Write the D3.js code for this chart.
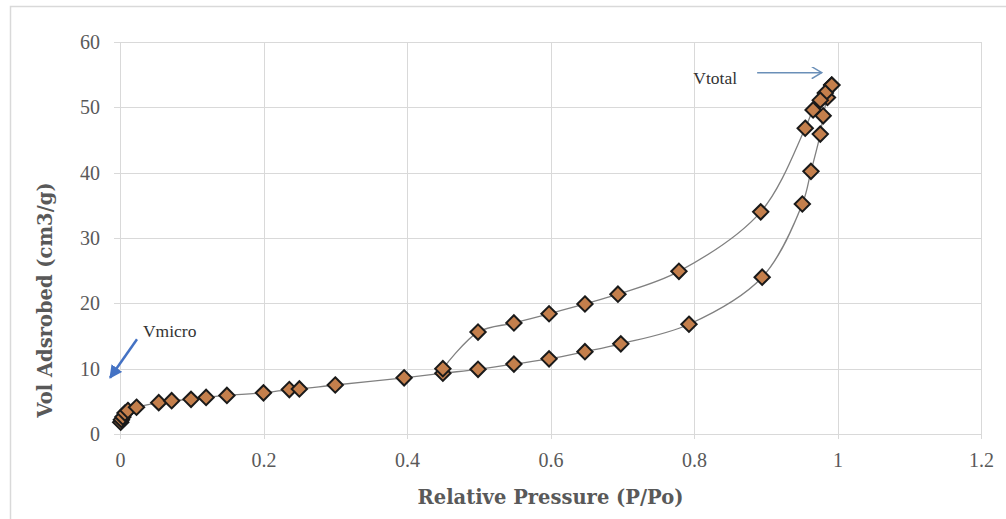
<!DOCTYPE html>
<html>
<head>
<meta charset="utf-8">
<script src="https://cdn.jsdelivr.net/npm/d3@7/dist/d3.min.js"></script>
<style>
  html, body { margin: 0; padding: 0; background: #fff; }
  svg { display: block; }
</style>
</head>
<body>
<svg id="chart" width="1006" height="519"></svg>
<script>
// ---- Data ----
const adsP = [0.001,0.002,0.004,0.007,0.011,0.023,0.054,0.072,0.099,0.12,0.149,0.2,0.236,0.25,0.3,0.396,0.45,0.499,0.549,0.598,0.648,0.698,0.793,0.895,0.951,0.963,0.976,0.98,0.986,0.992];
const adsV = [1.8,2.2,2.6,3.2,3.6,4.1,4.8,5.1,5.3,5.6,5.9,6.3,6.8,6.9,7.5,8.6,9.3,9.9,10.7,11.5,12.6,13.8,16.8,24.0,35.2,40.2,45.9,48.7,51.5,53.4];
const desP = [0.992,0.983,0.976,0.966,0.955,0.893,0.779,0.694,0.648,0.598,0.549,0.499,0.45];
const desV = [53.4,52.2,51.1,49.6,46.8,34.0,24.9,21.4,19.9,18.4,17.0,15.6,10.0];
const xTicks = [0,0.2,0.4,0.6,0.8,1,1.2];
const yTicks = [0,10,20,30,40,50,60];
const xTitle = "Relative Pressure (P/Po)";
const yTitle = "Vol Adsrobed (cm3/g)";
const notes = [
  {text: "Vtotal", tx: 0.799, ty: 53.6, x1: 0.888, y1: 55.3, x2: 0.978, y2: 55.3, head: "open"},
  {text: "Vmicro", tx: 0.032, ty: 14.8, x1: 0.0237, y1: 14.5, x2: -0.0139, y2: 8.6, head: "filled"}
];

// ---- Layout ----
const svg = d3.select("#chart");
const L = 120, R = 981, T = 42, B = 434;
const x = d3.scaleLinear().domain([0, 1.2]).range([L, R]);
const y = d3.scaleLinear().domain([0, 60]).range([B, T]);

// outer chart border
svg.append("rect").attr("x", 10.5).attr("y", 6.5).attr("width", 1010).attr("height", 530)
  .attr("fill", "none").attr("stroke", "#d9d9d9").attr("stroke-width", 1.5);

// gridlines
const grid = svg.append("g");
grid.selectAll("line.h").data(yTicks).join("line")
  .attr("x1", L - 6).attr("x2", R).attr("y1", d => Math.round(y(d)) + 0.5).attr("y2", d => Math.round(y(d)) + 0.5)
  .attr("stroke", "#d9d9d9").attr("stroke-width", 1);
grid.selectAll("line.v").data(xTicks).join("line")
  .attr("y1", T).attr("y2", B + 5).attr("x1", d => Math.round(x(d)) + 0.5).attr("x2", d => Math.round(x(d)) + 0.5)
  .attr("stroke", "#d9d9d9").attr("stroke-width", 1);

// axes (labels only)
const fontT = "'Liberation Serif', 'DejaVu Serif', serif";
const fontB = "'DejaVu Serif', 'Liberation Serif', serif";
const yAxis = d3.axisLeft(y).tickValues(yTicks).tickSize(0).tickPadding(20).tickFormat(d3.format("d"));
const gy = svg.append("g").attr("transform", `translate(${L},0)`).call(yAxis);
const xAxis = d3.axisBottom(x).tickValues(xTicks).tickSize(0).tickPadding(19).tickFormat(d => String(d));
const gx = svg.append("g").attr("transform", `translate(0,${B})`).call(xAxis);
[gx, gy].forEach(g => {
  g.select(".domain").remove();
  g.selectAll("text").attr("fill", "#595959").style("font-family", fontT).style("font-size", "20px");
});

// axis titles
svg.append("text").attr("x", (L + R) / 2).attr("y", 504).attr("text-anchor", "middle")
  .attr("fill", "#595959").style("font-family", fontB).style("font-size", "19.5px").style("font-weight", "bold")
  .text(xTitle);
svg.append("text").attr("transform", "translate(52,300) rotate(-90)").attr("text-anchor", "middle")
  .attr("fill", "#595959").style("font-family", fontB).style("font-size", "19.5px").style("font-weight", "bold")
  .text(yTitle);

// series lines
const ads = adsP.map((p, i) => [p, adsV[i]]);
const des = desP.map((p, i) => [p, desV[i]]);
const line = d3.line().x(d => x(d[0])).y(d => y(d[1])).curve(d3.curveCatmullRom.alpha(0.5));
[ads, des].forEach(s => {
  svg.append("path").attr("d", line(s)).attr("fill", "none").attr("stroke", "#808080").attr("stroke-width", 1.3);
});

// markers
const diamond = d3.symbol().type(d3.symbolDiamond2).size(150);
[ads, des].forEach(s => {
  svg.append("g").selectAll("path").data(s).join("path")
    .attr("d", diamond)
    .attr("transform", d => `translate(${x(d[0])},${y(d[1])})`)
    .attr("fill", "#c47f4c").attr("stroke", "#1a1a1a").attr("stroke-width", 2);
});

// annotations
const defs = svg.append("defs");
defs.append("marker").attr("id", "open").attr("viewBox", "0 0 12 12").attr("refX", 11).attr("refY", 6)
  .attr("markerWidth", 12).attr("markerHeight", 12).attr("markerUnits", "userSpaceOnUse").attr("orient", "auto")
  .append("path").attr("d", "M1,0 L11,6 L1,12").attr("fill", "none").attr("stroke", "#6a8fb8").attr("stroke-width", 1.5);
defs.append("marker").attr("id", "filled").attr("viewBox", "0 0 12 12").attr("refX", 11).attr("refY", 6)
  .attr("markerWidth", 13).attr("markerHeight", 13).attr("markerUnits", "userSpaceOnUse").attr("orient", "auto")
  .append("path").attr("d", "M0,0 L12,6 L0,12 Z").attr("fill", "#4472c4");
notes.forEach(n => {
  svg.append("line").attr("x1", x(n.x1)).attr("y1", y(n.y1)).attr("x2", x(n.x2)).attr("y2", y(n.y2))
    .attr("stroke", n.head === "open" ? "#6a8fb8" : "#4472c4").attr("stroke-width", n.head === "open" ? 1.6 : 2.5)
    .attr("marker-end", `url(#${n.head})`);
  svg.append("text").attr("x", x(n.tx)).attr("y", y(n.ty)).attr("fill", "#333")
    .style("font-family", fontT).style("font-size", "17.5px").text(n.text);
});
</script>
</body>
</html>
